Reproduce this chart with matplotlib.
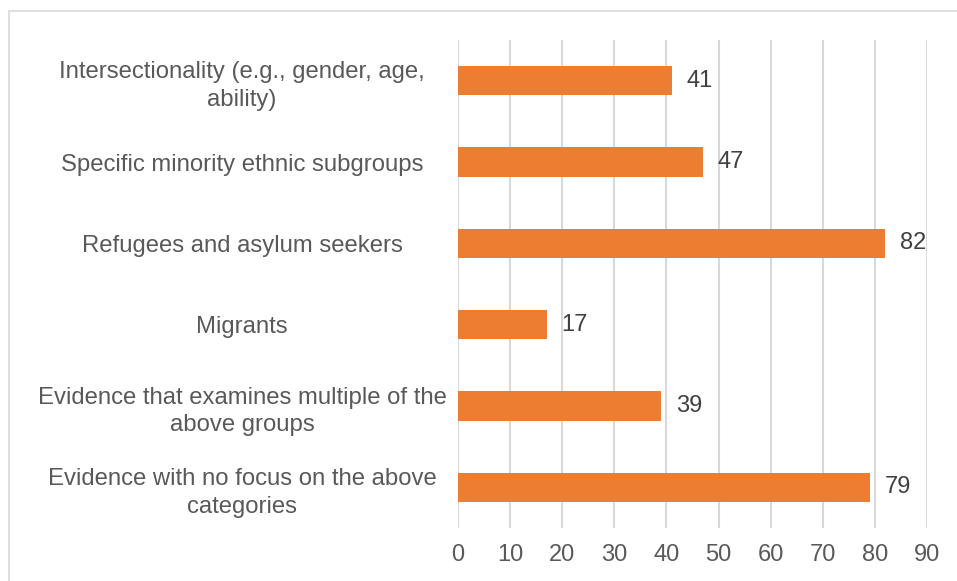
import matplotlib
matplotlib.use("Agg")
import matplotlib.pyplot as plt
from matplotlib.patches import Rectangle

categories = [
    "Intersectionality (e.g., gender, age,\nability)",
    "Specific minority ethnic subgroups",
    "Refugees and asylum seekers",
    "Migrants",
    "Evidence that examines multiple of the\nabove groups",
    "Evidence with no focus on the above\ncategories",
]
values = [41, 47, 82, 17, 39, 79]
x_ticks = [0, 10, 20, 30, 40, 50, 60, 70, 80, 90]

plt.rcParams["font.family"] = ["Liberation Sans", "DejaVu Sans"]

fig = plt.figure(figsize=(9.57, 5.81), dpi=100)
ax = fig.add_axes([458 / 957, 1 - 528 / 581, (927 - 458) / 957, (528 - 40) / 581])

# outer chart border (only left and top edges fall inside the image)
fig.patches.append(Rectangle((9 / 957, -0.1), 1.2, 1 - 11 / 581 + 0.1,
                             transform=fig.transFigure, fill=False,
                             edgecolor="#D9D9D9", linewidth=1.2))

y = list(range(len(categories)))
ax.barh(y, values, height=0.36, color="#ED7D31", zorder=3)
for yi, v in zip(y, values):
    ax.text(v + 2.8, yi, str(v), va="center", ha="left",
            fontsize=17, color="#404040")

ax.set_xlim(0, 90)
ax.set_ylim(len(categories) - 0.5, -0.5)
ax.set_xticks(x_ticks)
ax.set_xticklabels([str(t) for t in x_ticks])
ax.set_yticks(y)
ax.set_yticklabels(categories, ha="center", multialignment="center",
                   linespacing=1.35)
ax.tick_params(axis="y", length=0, pad=155.5, labelsize=17.2, labelcolor="#595959")
ax.tick_params(axis="x", length=0, pad=11.5, labelsize=17, labelcolor="#595959")
ax.grid(axis="x", color="#D9D9D9", linewidth=1.5, zorder=0)
for s in ax.spines.values():
    s.set_visible(False)

fig.savefig("out.png", dpi=100)
